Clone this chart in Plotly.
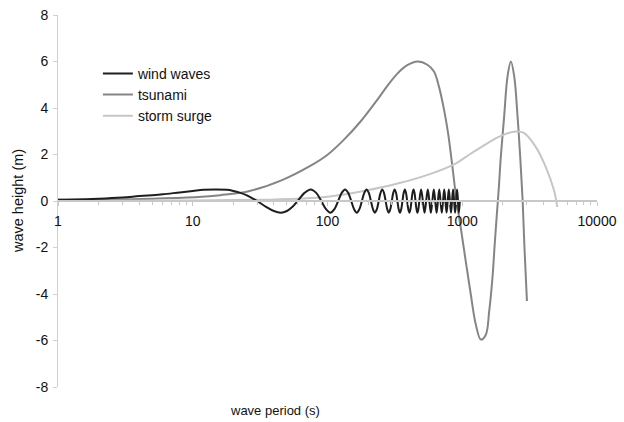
import plotly.graph_objects as go

# ---- data ----
wind_t = [1, 2, 3, 4, 5, 6, 8, 10, 12, 15, 18, 20, 22, 25, 30, 35, 40, 45, 50, 55,
          60, 67.5, 75, 82.5, 90, 97.5, 105, 112.5,
          120, 127.5, 135, 142.5, 150, 157.5, 165, 172.5,
          180, 187.5, 195, 202.5, 210, 217.5, 225, 232.5,
          240, 247.5, 255, 262.5, 270, 277.5, 285, 292.5,
          300, 307.5, 315, 322.5, 330, 337.5, 345, 352.5,
          360, 367.5, 375, 382.5, 390, 397.5, 405, 412.5,
          420, 427.5, 435, 442.5, 450, 457.5, 465, 472.5,
          480, 495, 510, 525, 540, 555, 570, 585, 600, 615, 630, 645, 660, 675, 690, 705,
          720, 735, 750, 765, 780, 795, 810, 825, 840, 855, 870, 885, 900, 915, 930, 945, 960]
wind_v = [0.05, 0.10, 0.15, 0.21, 0.25, 0.29, 0.37, 0.43, 0.48, 0.5, 0.48, 0.43, 0.37, 0.25,
          0, -0.25, -0.43, -0.5, -0.43, -0.25,
          0, 0.35, 0.5, 0.35, 0, -0.35, -0.5, -0.35,
          0, 0.35, 0.5, 0.35, 0, -0.35, -0.5, -0.35,
          0, 0.35, 0.5, 0.35, 0, -0.35, -0.5, -0.35,
          0, 0.35, 0.5, 0.35, 0, -0.35, -0.5, -0.35,
          0, 0.35, 0.5, 0.35, 0, -0.35, -0.5, -0.35,
          0, 0.35, 0.5, 0.35, 0, -0.35, -0.5, -0.35,
          0, 0.35, 0.5, 0.35, 0, -0.35, -0.5, -0.35,
          0, 0.5, 0, -0.5, 0, 0.5, 0, -0.5, 0, 0.5, 0, -0.5, 0, 0.5, 0, -0.5,
          0, 0.5, 0, -0.5, 0, 0.5, 0, -0.5, 0, 0.5, 0, -0.5, 0, 0.5, 0, -0.5, 0]

tsunami_t = [1, 2, 3.5, 5, 11, 16, 26, 46, 75, 99.5, 132, 176, 234, 278, 330, 391, 465,
             551, 617, 671, 733, 785, 845, 906, 975, 1062, 1156, 1260, 1374, 1496, 1585,
             1676, 1741, 1810, 1870, 1933, 2046, 2168, 2295, 2431, 2573, 2692, 2806, 2900, 3020]
tsunami_v = [0.05, 0.06, 0.08, 0.1, 0.17, 0.25, 0.42, 0.9, 1.52, 1.98, 2.63, 3.42, 4.35, 4.95,
             5.48, 5.84, 6.0, 5.86, 5.57, 4.93, 3.92, 2.92, 1.48, 0.04, -1.15, -2.6, -4.0,
             -5.3, -5.96, -5.75, -4.74, -3.3, -1.87, -0.5, 0.6, 1.91, 3.63, 5.36, 6.0, 5.36,
             3.63, 1.91, 0.04, -2.1, -4.3]

surge_t = [1, 10, 30, 60, 100, 190, 337, 596, 900, 1117, 1327, 1866, 2485, 2866,
           3500, 4155, 4790, 5070]
surge_v = [0.0, 0.02, 0.05, 0.1, 0.18, 0.44, 0.76, 1.19, 1.62, 1.98, 2.25, 2.76,
           2.99, 2.93, 2.34, 1.48, 0.47, -0.25]

x_tickvals = [1, 10, 100, 1000, 10000]
x_ticktext = ["1", "10", "100", "1000", "10000"]
x_minor = [m * d for d in (1, 10, 100, 1000) for m in range(2, 10)]
y_tickvals = [-8, -6, -4, -2, 0, 2, 4, 6, 8]
y_ticktext = ["-8", "-6", "-4", "-2", "0", "2", "4", "6", "8"]

FONT = "Liberation Sans, Arial, sans-serif"
TXT = "#111111"

fig = go.Figure()
fig.add_trace(go.Scatter(x=tsunami_t, y=tsunami_v, name="tsunami", mode="lines",
                         line=dict(color="#858585", width=2, shape="spline", smoothing=1),
                         legendrank=2))
fig.add_trace(go.Scatter(x=surge_t, y=surge_v, name="storm surge", mode="lines",
                         line=dict(color="#c6c6c6", width=2, shape="spline", smoothing=1),
                         legendrank=3))
fig.add_trace(go.Scatter(x=wind_t, y=wind_v, name="wind waves", mode="lines",
                         line=dict(color="#1e1e1e", width=2, shape="spline", smoothing=1),
                         legendrank=1))

fig.update_layout(
    width=624, height=422,
    margin=dict(l=58, r=27, t=15, b=35, autoexpand=False),
    paper_bgcolor="white", plot_bgcolor="white",
    font=dict(family=FONT, size=14, color=TXT),
    showlegend=True,
    legend=dict(x=0.074, y=0.885, xanchor="left", yanchor="top",
                bgcolor="rgba(0,0,0,0)", font=dict(size=14, color=TXT),
                tracegroupgap=0),
    xaxis=dict(type="log", range=[0, 4], anchor="free", position=0.5,
               showline=True, linecolor="#c8c8c8", linewidth=2,
               showgrid=False, zeroline=False, automargin=False,
               tickvals=x_tickvals, ticktext=x_ticktext,
               ticks="outside", ticklen=4, tickcolor="#c8c8c8",
               ticklabelstandoff=3,
               minor=dict(tickvals=x_minor, ticks="outside", ticklen=3, tickcolor="#c8c8c8"),
               tickfont=dict(size=14, color=TXT)),
    yaxis=dict(range=[-8, 8], tickvals=y_tickvals, ticktext=y_ticktext,
               showline=True, linecolor="#d0d0d0", linewidth=1,
               showgrid=False, zeroline=False, automargin=False,
               ticks="outside", ticklen=4, tickcolor="#d0d0d0",
               ticklabelstandoff=2,
               tickfont=dict(size=14, color=TXT)),
)

fig.add_annotation(text="wave period (s)", xref="paper", yref="paper",
                   x=0.4026, y=-0.0645, xanchor="center", yanchor="middle",
                   showarrow=False, font=dict(size=13, color=TXT))
fig.add_annotation(text="wave height (m)", xref="paper", yref="paper",
                   x=-0.0742, y=0.5, xanchor="center", yanchor="middle", textangle=-90,
                   showarrow=False, font=dict(size=14.5, color=TXT))

# remove the browser's default 8px body margin so the figure sits at the window origin
fig.write_html("out.html", config={"displayModeBar": False},
               post_script="document.body.style.margin='0';document.body.style.padding='0';")
